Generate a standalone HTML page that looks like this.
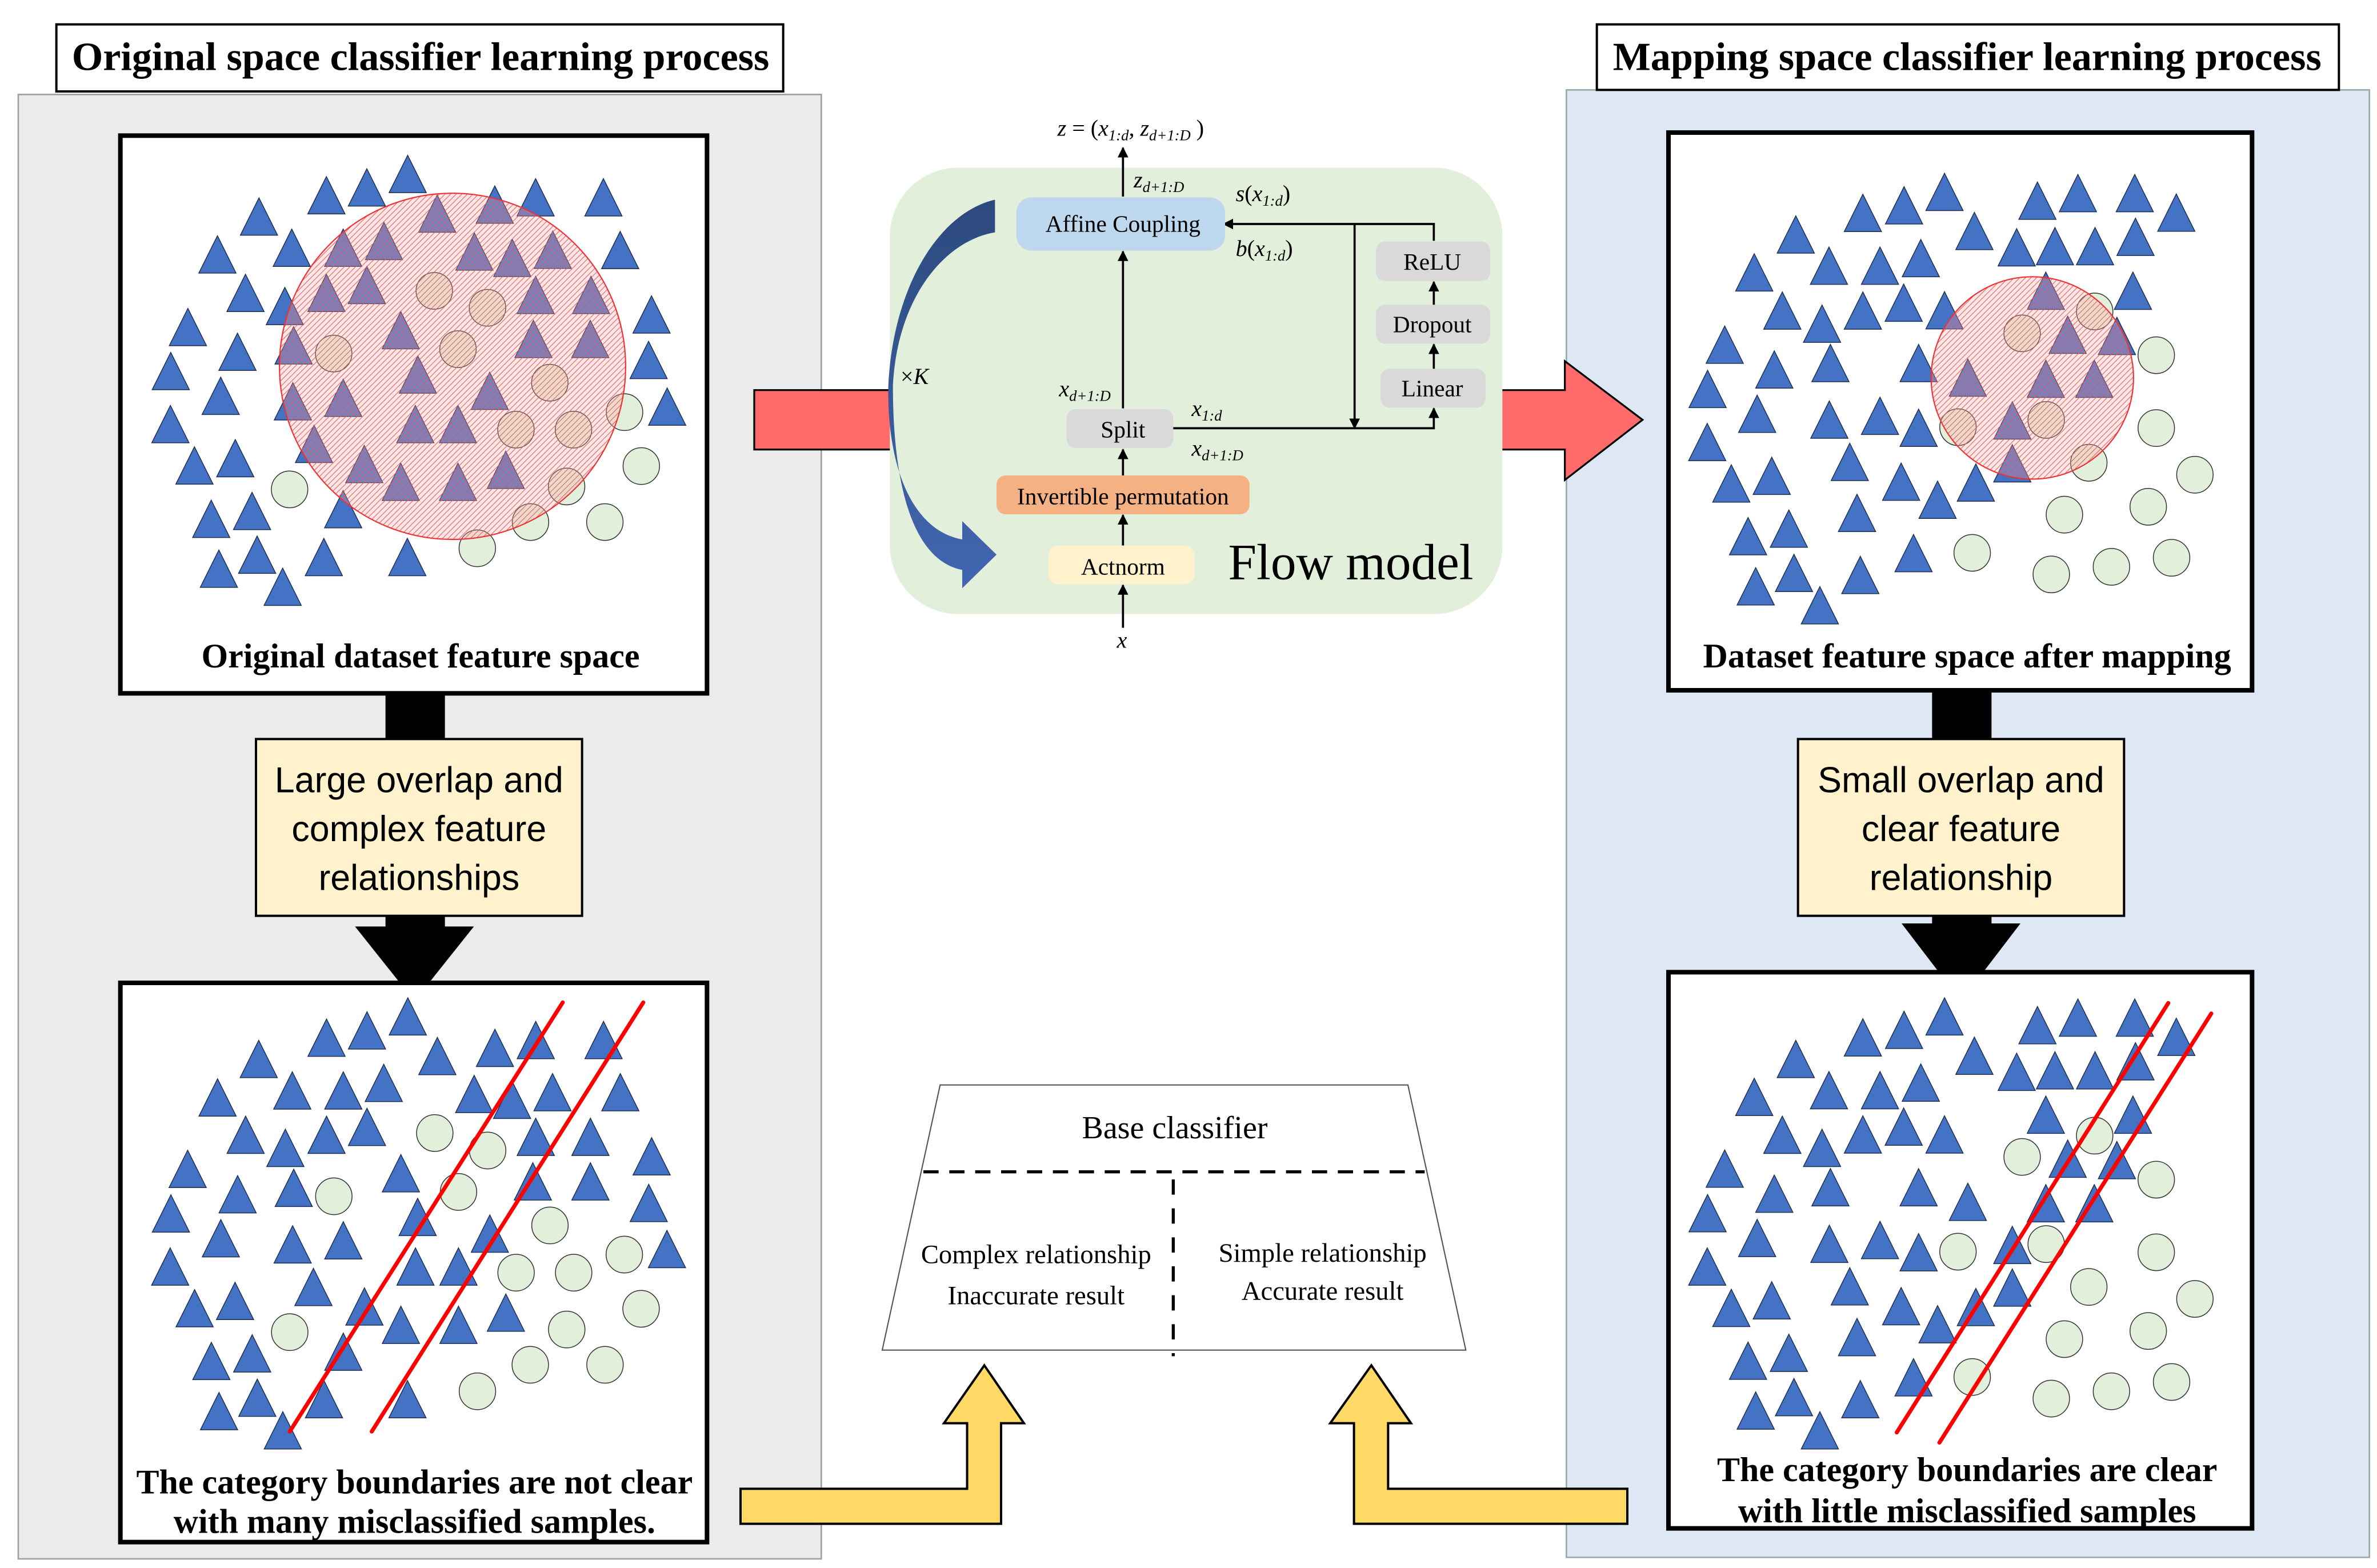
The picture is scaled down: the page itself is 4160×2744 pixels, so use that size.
<!DOCTYPE html>
<html><head><meta charset="utf-8"><style>
html,body{margin:0;padding:0;background:#fff;}
svg{display:block;}
text{font-family:"Liberation Serif",serif;}
.s{font-family:"Liberation Sans",sans-serif;}
</style></head><body>
<svg xmlns="http://www.w3.org/2000/svg" xmlns:xlink="http://www.w3.org/1999/xlink" width="4160" height="2744" viewBox="0 0 1560 1029">
<defs>
<path id="t" d="M0,0L51,128L-51,128Z" fill="#4472c4" stroke="#1f3050" stroke-width="1.5" vector-effect="non-scaling-stroke"/>
<ellipse id="c" cx="0" cy="0" rx="50" ry="63" fill="#e2efda" stroke="#333" stroke-width="1.5" vector-effect="non-scaling-stroke"/>
<pattern id="h" patternUnits="userSpaceOnUse" width="2.6" height="2.6" patternTransform="rotate(45)">
<rect width="2.6" height="2.6" fill="rgba(255,170,170,0.28)"/>
<line x1="0" y1="0" x2="0" y2="2.6" stroke="#f05050" stroke-width="0.75"/>
</pattern>
<marker id="a" viewBox="0 0 10 10" refX="9" refY="5" markerWidth="7" markerHeight="7" orient="auto" markerUnits="userSpaceOnUse"><path d="M0,0L10,5L0,10Z" fill="#000"/></marker>
<linearGradient id="bg" x1="0" y1="0" x2="0" y2="1"><stop offset="0" stop-color="#2c4a7e"/><stop offset="1" stop-color="#4266b0"/></linearGradient>
</defs>

<rect x="12" y="62" width="527" height="961" fill="#ebebeb" stroke="#a0a0a0" stroke-width="1"/>
<rect x="1028" y="59" width="527" height="963" fill="#dde8f4" stroke="#9aa" stroke-width="1"/>
<rect x="37" y="16" width="477" height="44" fill="#fff" stroke="#000" stroke-width="1.5"/>
<text x="276" y="46" font-size="26.3" font-weight="bold" text-anchor="middle">Original space classifier learning process</text>
<rect x="1048" y="16" width="487" height="43" fill="#fff" stroke="#000" stroke-width="1.5"/>
<text x="1291" y="46" font-size="26.3" font-weight="bold" text-anchor="middle">Mapping space classifier learning process</text>

<rect x="495" y="256" width="92" height="39" fill="#ff6b6b" stroke="#000" stroke-width="1.2"/>
<path d="M980,256L1027,256L1027,237L1078,275.5L1027,315L1027,295L980,295Z" fill="#ff6b6b" stroke="#000" stroke-width="1.2"/>

<rect x="584" y="110" width="402" height="293" rx="45" fill="#e2efda"/>
<path d="M653,131C615,140 586,190 583,253C582,305 598,348 631.5,354L631.5,342L654,364L631.5,386L631.5,374C596,367 586,310 586,253C589,195 620,158 653,152.5Z" fill="url(#bg)"/>
<text x="591" y="252" font-size="15">×<tspan font-style="italic">K</tspan></text>
<g stroke="#000" stroke-width="1.4" fill="none">
<line x1="737" y1="412" x2="737" y2="384" marker-end="url(#a)"/>
<line x1="737" y1="358" x2="737" y2="338" marker-end="url(#a)"/>
<line x1="737" y1="312" x2="737" y2="295" marker-end="url(#a)"/>
<line x1="737" y1="268" x2="737" y2="165" marker-end="url(#a)"/>
<line x1="737" y1="129" x2="737" y2="97" marker-end="url(#a)"/>
<polyline points="769,281 941,281 941,268" marker-end="url(#a)"/>
<line x1="889" y1="147" x2="889" y2="281" marker-end="url(#a)"/>
<polyline points="941,158 941,147 803,147" marker-end="url(#a)"/>
<line x1="941" y1="242" x2="941" y2="226" marker-end="url(#a)"/>
<line x1="941" y1="200" x2="941" y2="185" marker-end="url(#a)"/>
</g>
<rect x="667" y="129.5" width="137" height="35" rx="10" fill="#bdd7ee"/>
<text x="737" y="152" font-size="15.5" text-anchor="middle">Affine Coupling</text>
<rect x="903" y="158.5" width="75" height="26" rx="6" fill="#d9d9d9"/>
<text x="940" y="177" font-size="15.5" text-anchor="middle">ReLU</text>
<rect x="903" y="200" width="75" height="25.5" rx="6" fill="#d9d9d9"/>
<text x="940" y="218" font-size="15.5" text-anchor="middle">Dropout</text>
<rect x="906" y="242" width="69" height="25.5" rx="6" fill="#d9d9d9"/>
<text x="940" y="260" font-size="15.5" text-anchor="middle">Linear</text>
<rect x="700" y="268.5" width="70" height="25.5" rx="6" fill="#d9d9d9"/>
<text x="737" y="287" font-size="15.5" text-anchor="middle">Split</text>
<rect x="654" y="312" width="166" height="25.5" rx="6" fill="#f4b183"/>
<text x="737" y="331" font-size="15.5" text-anchor="middle">Invertible permutation</text>
<rect x="688" y="358" width="96" height="25.5" rx="7" fill="#fff2cc"/>
<text x="737" y="377" font-size="15.5" text-anchor="middle">Actnorm</text>
<text x="806" y="380" font-size="33.5">Flow model</text>
<text x="733" y="425" font-size="15" font-style="italic">x</text>
<text x="694" y="89" font-size="15" font-style="italic">z <tspan font-style="normal">= (</tspan>x<tspan font-size="10" dy="3">1:d</tspan><tspan dy="-3">, z</tspan><tspan font-size="10" dy="3">d+1:D</tspan><tspan dy="-3" font-style="normal"> )</tspan></text>
<text x="744" y="123" font-size="15" font-style="italic">z<tspan font-size="10" dy="3">d+1:D</tspan></text>
<text x="811" y="132" font-size="15" font-style="italic">s<tspan font-style="normal">(</tspan>x<tspan font-size="10" dy="3">1:d</tspan><tspan dy="-3" font-style="normal">)</tspan></text>
<text x="811" y="168" font-size="15" font-style="italic">b<tspan font-style="normal">(</tspan>x<tspan font-size="10" dy="3">1:d</tspan><tspan dy="-3" font-style="normal">)</tspan></text>
<text x="695" y="260" font-size="15" font-style="italic">x<tspan font-size="10" dy="3">d+1:D</tspan></text>
<text x="782" y="273" font-size="15" font-style="italic">x<tspan font-size="10" dy="3">1:d</tspan></text>
<text x="782" y="299" font-size="15" font-style="italic">x<tspan font-size="10" dy="3">d+1:D</tspan></text>

<rect x="253" y="450" width="39" height="40" fill="#000"/>
<path d="M253,598L292,598L292,608L311,608L272,657L233,608L253,608Z" fill="#000"/>
<rect x="168" y="485" width="214" height="116" fill="#fff2cc" stroke="#000" stroke-width="1.5"/>
<text class="s" x="275" y="520" font-size="23.5" text-anchor="middle">Large overlap and</text>
<text class="s" x="275" y="552" font-size="23.5" text-anchor="middle">complex feature</text>
<text class="s" x="275" y="584" font-size="23.5" text-anchor="middle">relationships</text>
<rect x="1268" y="448" width="39" height="42" fill="#000"/>
<path d="M1268,598L1307,598L1307,606L1326,606L1287,657L1248,606L1268,606Z" fill="#000"/>
<rect x="1180" y="485" width="214" height="116" fill="#fff2cc" stroke="#000" stroke-width="1.5"/>
<text class="s" x="1287" y="520" font-size="23.5" text-anchor="middle">Small overlap  and</text>
<text class="s" x="1287" y="552" font-size="23.5" text-anchor="middle">clear feature</text>
<text class="s" x="1287" y="584" font-size="23.5" text-anchor="middle">relationship</text>

<rect x="79" y="89" width="385" height="366" fill="#fff" stroke="#000" stroke-width="3"/>
<g transform="translate(75,86.25) scale(0.2392,0.1913)">
<use href="#t" x="805" y="82"/><use href="#t" x="693" y="128"/><use href="#t" x="582" y="155"/><use href="#t" x="1156" y="162"/><use href="#t" x="1342" y="162"/><use href="#t" x="1044" y="187"/><use href="#t" x="397" y="228"/><use href="#t" x="487" y="335"/><use href="#t" x="283" y="358"/><use href="#t" x="628" y="335"/><use href="#t" x="740" y="312"/><use href="#t" x="886" y="218"/><use href="#t" x="988" y="348"/><use href="#t" x="1092" y="370"/><use href="#t" x="1203" y="342"/><use href="#t" x="1388" y="343"/><use href="#t" x="360" y="490"/><use href="#t" x="468" y="535"/><use href="#t" x="582" y="490"/><use href="#t" x="693" y="463"/><use href="#t" x="1156" y="497"/><use href="#t" x="1308" y="497"/><use href="#t" x="202" y="607"/><use href="#t" x="338" y="692"/><use href="#t" x="155" y="758"/><use href="#t" x="492" y="670"/><use href="#t" x="786" y="618"/><use href="#t" x="1150" y="648"/><use href="#t" x="1306" y="648"/><use href="#t" x="1474" y="564"/><use href="#t" x="1466" y="720"/><use href="#t" x="292" y="843"/><use href="#t" x="833" y="770"/><use href="#t" x="1030" y="826"/><use href="#t" x="154" y="940"/><use href="#t" x="490" y="862"/><use href="#t" x="628" y="850"/><use href="#t" x="1517" y="880"/><use href="#t" x="826" y="940"/><use href="#t" x="943" y="940"/><use href="#t" x="220" y="1082"/><use href="#t" x="332" y="1057"/><use href="#t" x="548" y="1008"/><use href="#t" x="686" y="1077"/><use href="#t" x="786" y="1138"/><use href="#t" x="943" y="1138"/><use href="#t" x="1074" y="1097"/><use href="#t" x="628" y="1232"/><use href="#t" x="266" y="1265"/><use href="#t" x="378" y="1238"/><use href="#t" x="392" y="1388"/><use href="#t" x="287" y="1436"/><use href="#t" x="575" y="1396"/><use href="#t" x="804" y="1396"/><use href="#t" x="462" y="1498"/>
<use href="#c" x="878" y="547"/><use href="#c" x="1024" y="605"/><use href="#c" x="943" y="747"/><use href="#c" x="602" y="762"/><use href="#c" x="1195" y="862"/><use href="#c" x="1400" y="963"/><use href="#c" x="1102" y="1023"/><use href="#c" x="1260" y="1023"/><use href="#c" x="481" y="1228"/><use href="#c" x="1446" y="1148"/><use href="#c" x="1241" y="1218"/><use href="#c" x="1142" y="1340"/><use href="#c" x="1346" y="1340"/><use href="#c" x="996" y="1430"/>
</g>
<circle cx="297" cy="240.4" r="113.6" fill="url(#h)" stroke="#f03030" stroke-width="0.8"/>
<text x="276" y="438" font-size="22.5" font-weight="bold" text-anchor="middle">Original dataset feature space</text>

<rect x="79" y="645" width="385" height="367" fill="#fff" stroke="#000" stroke-width="3"/>
<g transform="translate(93.75,652.5) scale(0.2392,0.1913)">
<use href="#t" x="727" y="12"/><use href="#t" x="615" y="60"/><use href="#t" x="504" y="85"/><use href="#t" x="318" y="158"/><use href="#t" x="205" y="290"/><use href="#t" x="410" y="266"/><use href="#t" x="550" y="266"/><use href="#t" x="661" y="240"/><use href="#t" x="808" y="148"/><use href="#t" x="966" y="120"/><use href="#t" x="1078" y="93"/><use href="#t" x="1264" y="93"/><use href="#t" x="909" y="278"/><use href="#t" x="1013" y="298"/><use href="#t" x="1124" y="272"/><use href="#t" x="1310" y="272"/><use href="#t" x="282" y="418"/><use href="#t" x="391" y="463"/><use href="#t" x="504" y="418"/><use href="#t" x="615" y="391"/><use href="#t" x="1078" y="425"/><use href="#t" x="1228" y="425"/><use href="#t" x="1396" y="492"/><use href="#t" x="123" y="535"/><use href="#t" x="260" y="622"/><use href="#t" x="414" y="600"/><use href="#t" x="708" y="550"/><use href="#t" x="1070" y="578"/><use href="#t" x="1228" y="578"/><use href="#t" x="1388" y="652"/><use href="#t" x="77" y="688"/><use href="#t" x="214" y="773"/><use href="#t" x="411" y="794"/><use href="#t" x="550" y="780"/><use href="#t" x="754" y="700"/><use href="#t" x="952" y="757"/><use href="#t" x="1438" y="810"/><use href="#t" x="75" y="870"/><use href="#t" x="748" y="870"/><use href="#t" x="866" y="870"/><use href="#t" x="468" y="940"/><use href="#t" x="142" y="1013"/><use href="#t" x="253" y="988"/><use href="#t" x="608" y="1007"/><use href="#t" x="708" y="1070"/><use href="#t" x="866" y="1070"/><use href="#t" x="996" y="1028"/><use href="#t" x="550" y="1162"/><use href="#t" x="188" y="1194"/><use href="#t" x="300" y="1168"/><use href="#t" x="314" y="1320"/><use href="#t" x="209" y="1366"/><use href="#t" x="497" y="1325"/><use href="#t" x="726" y="1325"/><use href="#t" x="384" y="1432"/>
<use href="#c" x="801" y="476"/><use href="#c" x="946" y="536"/><use href="#c" x="524" y="693"/><use href="#c" x="866" y="678"/><use href="#c" x="1117" y="793"/><use href="#c" x="1024" y="955"/><use href="#c" x="1182" y="955"/><use href="#c" x="1321" y="893"/><use href="#c" x="403" y="1159"/><use href="#c" x="1367" y="1079"/><use href="#c" x="1163" y="1150"/><use href="#c" x="1063" y="1271"/><use href="#c" x="1268" y="1271"/><use href="#c" x="918" y="1362"/>
<line x1="1152" y1="28" x2="403" y2="1500" stroke="#f00" stroke-width="7" stroke-linecap="round" vector-effect="non-scaling-stroke"/>
<line x1="1373" y1="28" x2="628" y2="1500" stroke="#f00" stroke-width="7" stroke-linecap="round" vector-effect="non-scaling-stroke"/>
</g>
<text x="272" y="980" font-size="22.5" font-weight="bold" text-anchor="middle">The category boundaries are not clear</text>
<text x="272" y="1006" font-size="22.5" font-weight="bold" text-anchor="middle">with many misclassified samples.</text>

<rect x="1095" y="87" width="383" height="366" fill="#fff" stroke="#000" stroke-width="3"/>
<g transform="translate(1102.5,108.75) scale(0.2392,0.1913)">
<use href="#t" x="726" y="26"/><use href="#t" x="615" y="72"/><use href="#t" x="502" y="98"/><use href="#t" x="318" y="172"/><use href="#t" x="204" y="302"/><use href="#t" x="409" y="279"/><use href="#t" x="549" y="279"/><use href="#t" x="661" y="253"/><use href="#t" x="808" y="160"/><use href="#t" x="981" y="56"/><use href="#t" x="1092" y="30"/><use href="#t" x="1248" y="30"/><use href="#t" x="1362" y="97"/><use href="#t" x="924" y="216"/><use href="#t" x="1029" y="212"/><use href="#t" x="1139" y="212"/><use href="#t" x="1250" y="180"/><use href="#t" x="281" y="433"/><use href="#t" x="390" y="478"/><use href="#t" x="502" y="433"/><use href="#t" x="614" y="406"/><use href="#t" x="726" y="432"/><use href="#t" x="1004" y="365"/><use href="#t" x="1243" y="365"/><use href="#t" x="123" y="550"/><use href="#t" x="259" y="635"/><use href="#t" x="413" y="613"/><use href="#t" x="655" y="613"/><use href="#t" x="1064" y="516"/><use href="#t" x="1199" y="520"/><use href="#t" x="76" y="702"/><use href="#t" x="212" y="787"/><use href="#t" x="410" y="807"/><use href="#t" x="549" y="794"/><use href="#t" x="655" y="835"/><use href="#t" x="790" y="663"/><use href="#t" x="1004" y="667"/><use href="#t" x="1137" y="667"/><use href="#t" x="75" y="884"/><use href="#t" x="912" y="810"/><use href="#t" x="466" y="952"/><use href="#t" x="141" y="1026"/><use href="#t" x="252" y="1000"/><use href="#t" x="607" y="1020"/><use href="#t" x="707" y="1082"/><use href="#t" x="812" y="1023"/><use href="#t" x="912" y="957"/><use href="#t" x="486" y="1127"/><use href="#t" x="187" y="1207"/><use href="#t" x="299" y="1181"/><use href="#t" x="313" y="1333"/><use href="#t" x="208" y="1379"/><use href="#t" x="495" y="1340"/><use href="#t" x="641" y="1265"/><use href="#t" x="384" y="1444"/>
<use href="#c" x="1138" y="500"/><use href="#c" x="939" y="575"/><use href="#c" x="1307" y="650"/><use href="#c" x="763" y="897"/><use href="#c" x="1005" y="872"/><use href="#c" x="1307" y="900"/><use href="#c" x="1122" y="1019"/><use href="#c" x="1413" y="1060"/><use href="#c" x="1055" y="1197"/><use href="#c" x="1285" y="1170"/><use href="#c" x="802" y="1328"/><use href="#c" x="1019" y="1402"/><use href="#c" x="1184" y="1376"/><use href="#c" x="1349" y="1345"/>
</g>
<circle cx="1333.8" cy="248" r="66.4" fill="url(#h)" stroke="#f03030" stroke-width="0.8"/>
<text x="1291" y="438" font-size="22.5" font-weight="bold" text-anchor="middle">Dataset feature space after mapping</text>

<rect x="1095" y="638" width="383" height="365" fill="#fff" stroke="#000" stroke-width="3"/>
<g transform="translate(1102.5,652.5) scale(0.2392,0.1913)">
<use href="#t" x="726" y="12"/><use href="#t" x="615" y="58"/><use href="#t" x="502" y="84"/><use href="#t" x="318" y="158"/><use href="#t" x="204" y="288"/><use href="#t" x="409" y="265"/><use href="#t" x="549" y="265"/><use href="#t" x="661" y="239"/><use href="#t" x="808" y="147"/><use href="#t" x="981" y="42"/><use href="#t" x="1092" y="16"/><use href="#t" x="1248" y="16"/><use href="#t" x="1362" y="82"/><use href="#t" x="924" y="202"/><use href="#t" x="1029" y="197"/><use href="#t" x="1139" y="197"/><use href="#t" x="1250" y="166"/><use href="#t" x="281" y="418"/><use href="#t" x="390" y="463"/><use href="#t" x="502" y="417"/><use href="#t" x="614" y="390"/><use href="#t" x="726" y="417"/><use href="#t" x="1004" y="349"/><use href="#t" x="1243" y="349"/><use href="#t" x="123" y="534"/><use href="#t" x="259" y="620"/><use href="#t" x="413" y="598"/><use href="#t" x="655" y="598"/><use href="#t" x="1064" y="500"/><use href="#t" x="1199" y="505"/><use href="#t" x="76" y="687"/><use href="#t" x="212" y="772"/><use href="#t" x="410" y="792"/><use href="#t" x="549" y="779"/><use href="#t" x="655" y="821"/><use href="#t" x="790" y="648"/><use href="#t" x="1004" y="653"/><use href="#t" x="1137" y="653"/><use href="#t" x="75" y="870"/><use href="#t" x="912" y="796"/><use href="#t" x="912" y="942"/><use href="#t" x="466" y="938"/><use href="#t" x="141" y="1012"/><use href="#t" x="252" y="986"/><use href="#t" x="607" y="1006"/><use href="#t" x="707" y="1068"/><use href="#t" x="812" y="1009"/><use href="#t" x="486" y="1112"/><use href="#t" x="187" y="1193"/><use href="#t" x="299" y="1166"/><use href="#t" x="313" y="1318"/><use href="#t" x="208" y="1364"/><use href="#t" x="495" y="1325"/><use href="#t" x="641" y="1250"/><use href="#t" x="384" y="1432"/>
<use href="#c" x="1138" y="485"/><use href="#c" x="939" y="558"/><use href="#c" x="1307" y="636"/><use href="#c" x="763" y="883"/><use href="#c" x="1005" y="857"/><use href="#c" x="1307" y="885"/><use href="#c" x="1122" y="1004"/><use href="#c" x="1413" y="1045"/><use href="#c" x="1055" y="1183"/><use href="#c" x="1285" y="1155"/><use href="#c" x="802" y="1313"/><use href="#c" x="1019" y="1387"/><use href="#c" x="1184" y="1362"/><use href="#c" x="1349" y="1330"/>
<line x1="1340" y1="30" x2="595" y2="1503" stroke="#f00" stroke-width="7" stroke-linecap="round" vector-effect="non-scaling-stroke"/>
<line x1="1458" y1="66" x2="712" y2="1538" stroke="#f00" stroke-width="7" stroke-linecap="round" vector-effect="non-scaling-stroke"/>
</g>
<text x="1291" y="972" font-size="22.5" font-weight="bold" text-anchor="middle">The category boundaries are clear</text>
<text x="1291" y="999" font-size="22.5" font-weight="bold" text-anchor="middle">with little misclassified samples</text>

<path d="M617,712L924,712L962,886L579,886Z" fill="#fff" stroke="#555" stroke-width="0.8"/>
<line x1="606" y1="769" x2="935" y2="769" stroke="#000" stroke-width="2" stroke-dasharray="10,7"/>
<line x1="770" y1="774" x2="770" y2="890" stroke="#000" stroke-width="2" stroke-dasharray="10,9"/>
<text x="771" y="747" font-size="21" text-anchor="middle">Base classifier</text>
<text x="680" y="829" font-size="17.5" text-anchor="middle">Complex relationship</text>
<text x="680" y="856" font-size="17.5" text-anchor="middle">Inaccurate result</text>
<text x="868" y="828" font-size="17.5" text-anchor="middle">Simple relationship</text>
<text x="868" y="853" font-size="17.5" text-anchor="middle">Accurate result</text>

<path d="M486,977L634.7,977L634.7,934L619.5,934L646,896L672,934L657,934L657,1000L486,1000Z" fill="#ffd966" stroke="#000" stroke-width="1.5"/>
<path d="M1068,977L911,977L911,934L926,934L900,896L873,934L888.6,934L888.6,1000L1068,1000Z" fill="#ffd966" stroke="#000" stroke-width="1.5"/>
</svg>
</body></html>
